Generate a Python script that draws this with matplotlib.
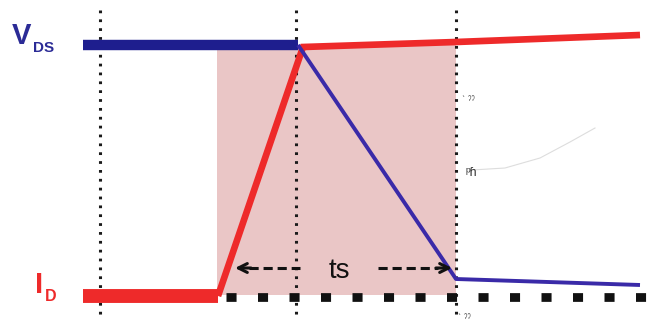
import matplotlib.pyplot as plt

plt.rcParams['font.family'] = ['Liberation Sans', 'DejaVu Sans']

# switching waveform, time and level in drawing units (y grows downward)
t_off = [83, 298]          # V_DS flat (off state)
vds_off = [45, 45]
t_fall = [298, 456, 640]   # V_DS falling, then on-state
vds_fall = [45, 279, 285]

t_id_low = [83, 218]       # I_D before turn-on
id_low = [296, 296]
t_id_rise = [218, 303, 456, 640]
id_rise = [296, 47, 42, 35]

markers_t = [100, 296, 456]   # dotted time markers
zero_line = [226, 652]        # square-dotted baseline
shade_t = [217, 456]          # switching interval
shade_y = [45, 295]

arrow_y = 268
ts_left = [235, 300]
ts_right = [378, 452]

fig = plt.figure(figsize=(6.62, 3.25), dpi=100)
ax = fig.add_axes([0, 0, 1, 1])
ax.set_xlim(0, 662)
ax.set_ylim(325, 0)
ax.axis('off')

# shaded switching interval
ax.fill_between(shade_t, shade_y[0], shade_y[1], color='#eac6c6', lw=0, zorder=1)

# vertical dotted markers
for x in markers_t:
    ax.plot([x, x], [10, 316], color='#1a1a1a', lw=2.2,
            ls=(0, (0.9, 2.0)), zorder=2)

# baseline of squares
ax.plot(zero_line, [297, 297], color='#111111', lw=6.3,
        ls=(0, (1.15, 2.45)), dash_capstyle='butt', zorder=3)

# I_D
red = '#ee2a2a'
ax.plot(t_id_low, id_low, color=red, lw=10, solid_capstyle='butt', zorder=4)
ax.plot(t_id_rise, id_rise, color=red, lw=4.8, solid_capstyle='butt',
        solid_joinstyle='miter', zorder=4)

# V_DS
ax.plot(t_off, vds_off, color='#1e1e8e', lw=7.5, solid_capstyle='butt', zorder=5)
ax.plot(t_fall, vds_fall, color='#3a2aa8', lw=2.8, solid_capstyle='butt', zorder=5)

# labels
ax.text(12, 44, 'V', color='#2b2b96', fontsize=21, fontweight='bold',
        va='baseline', ha='left')
ax.text(33, 52, 'DS', color='#2b2b96', fontsize=11, fontweight='bold',
        va='baseline', ha='left')
ax.text(35, 293, 'I', color='#ee2a2a', fontsize=21, fontweight='bold',
        va='baseline', ha='left')
ax.text(45, 301, 'D', color='#ee2a2a', fontsize=11.5, fontweight='bold',
        va='baseline', ha='left')

# ts interval arrows
ax.text(339, arrow_y + 10, 'ts', color='#111111', fontsize=20,
        ha='center', va='baseline')
ax.plot([ts_left[0] + 14, ts_left[1]], [arrow_y, arrow_y], color='#111111',
        lw=2.2, ls=(0, (3, 1.6)), zorder=6)
ax.annotate('', xy=(ts_left[0], arrow_y), xytext=(ts_left[0] + 16, arrow_y),
            arrowprops=dict(arrowstyle='->', color='#111111', lw=2.2,
                            mutation_scale=16, shrinkA=0, shrinkB=0), zorder=6)
ax.plot([ts_right[0], ts_right[1] - 14], [arrow_y, arrow_y], color='#111111',
        lw=2.2, ls=(0, (3, 1.6)), zorder=6)
ax.annotate('', xy=(ts_right[1], arrow_y), xytext=(ts_right[1] - 16, arrow_y),
            arrowprops=dict(arrowstyle='->', color='#111111', lw=2.2,
                            mutation_scale=16, shrinkA=0, shrinkB=0), zorder=6)

# faint pencil notes
ax.plot([472, 505, 540, 570, 595], [170, 168, 158, 142, 128],
        color='#dddddd', lw=0.8, zorder=2)
ax.text(466, 176, 'ᵖɦ', color='#333333', fontsize=9, zorder=6)
ax.text(462, 104, 'ˋ ˀˀ', color='#555555', fontsize=7, zorder=6)
ax.text(458, 322, 'ˋ ˀˀ', color='#555555', fontsize=7, zorder=6)

fig.savefig('out.png', dpi=100)
